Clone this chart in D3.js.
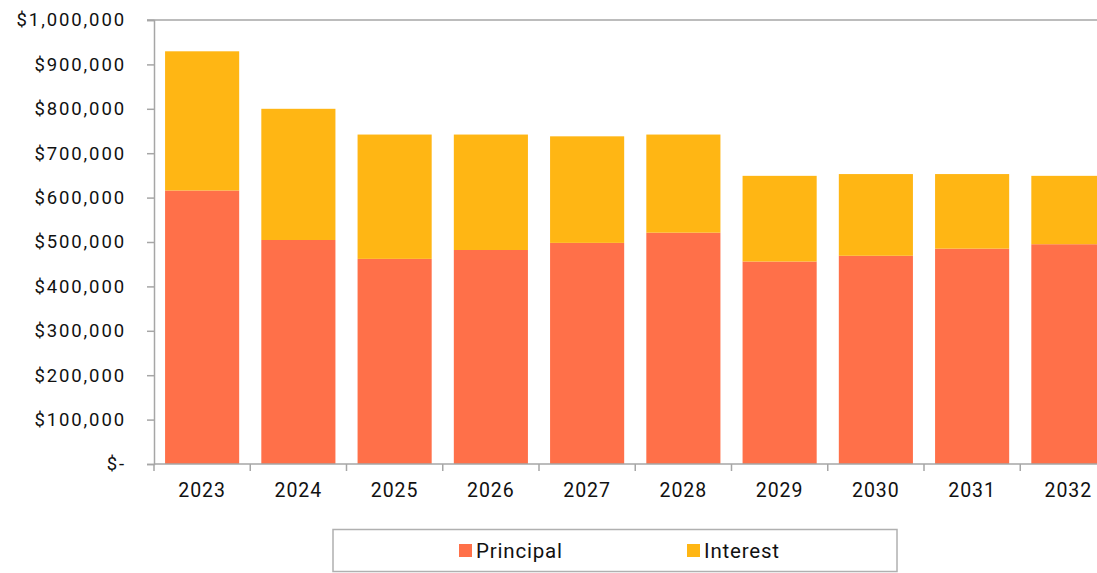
<!DOCTYPE html>
<html>
<head>
<meta charset="utf-8">
<script src="https://cdn.jsdelivr.net/npm/d3@7"></script>
<style>
  body { margin: 0; background: #fff; }
  svg { display: block; font-family: Roboto, "Liberation Sans", sans-serif; }
</style>
</head>
<body>
<div class="chart"></div>
<script>
const years = ["2023", "2024", "2025", "2026", "2027", "2028", "2029", "2030", "2031", "2032"];
const principal = [616000, 504500, 462000, 482000, 498000, 521000, 456000, 469000, 485000, 495000];
const interest = [313500, 295500, 280000, 260000, 240000, 221000, 193000, 184000, 168000, 154000];
const yTicks = [0, 100000, 200000, 300000, 400000, 500000, 600000, 700000, 800000, 900000, 1000000];
const seriesNames = ["Principal", "Interest"];
const colors = ["#ff7049", "#ffb614"];

const width = 1097;
const height = 573;

const rows = years.map((y, i) => ({ year: y, Principal: principal[i], Interest: interest[i] }));
const stacked = d3.stack().keys(seriesNames)(rows);

const x = d3.scaleBand().domain(years).range([154, 154 + 96.25 * years.length]).paddingInner(0.23).paddingOuter(0.115);
const y = d3.scaleLinear().domain([0, 1000000]).range([464, 20]);

const svg = d3.select(".chart").append("svg")
  .attr("width", width)
  .attr("height", height);

// top border line
svg.append("line")
  .attr("x1", 147).attr("x2", width)
  .attr("y1", y(1000000)).attr("y2", y(1000000))
  .attr("stroke", "#a6a6a6").attr("stroke-width", 1.5);

svg.append("g")
  .selectAll("g")
  .data(stacked)
  .enter()
  .append("g")
  .attr("fill", (d, i) => colors[i])
  .selectAll("rect")
  .data(d => d)
  .enter()
  .append("rect")
  .attr("x", d => x(d.data.year))
  .attr("width", x.bandwidth())
  .attr("y", d => y(d[1]))
  .attr("height", d => y(d[0]) - y(d[1]));

const fmt = v => v === 0 ? "$-" : "$" + d3.format(",")(v);

const yAxis = svg.append("g")
  .attr("transform", "translate(154,0)")
  .call(d3.axisLeft(y).tickValues(yTicks).tickFormat(fmt).tickSize(7).tickPadding(21));
yAxis.select(".domain").attr("stroke", "#a6a6a6").attr("stroke-width", 1.5);
yAxis.selectAll(".tick line").attr("stroke", "#a6a6a6").attr("stroke-width", 1.5);
yAxis.selectAll(".tick text")
  .attr("font-size", 18.5).attr("fill", "#111").attr("letter-spacing", 1.9)
  .style("font-family", "Roboto, sans-serif");

// x axis with ticks between categories
const xBound = d3.scaleLinear().domain([0, years.length]).range(x.range());
const xAxis = svg.append("g").attr("transform", `translate(0,${y(0)})`);
xAxis.append("line")
  .attr("x1", 154).attr("x2", width)
  .attr("stroke", "#a6a6a6").attr("stroke-width", 1.5);
xAxis.selectAll(".sep")
  .data(d3.range(years.length + 1))
  .enter()
  .append("line")
  .attr("x1", d => xBound(d)).attr("x2", d => xBound(d))
  .attr("y1", 0).attr("y2", 7)
  .attr("stroke", "#a6a6a6").attr("stroke-width", 1.5);
xAxis.selectAll(".lbl")
  .data(years)
  .enter()
  .append("text")
  .attr("x", d => x(d) + x.bandwidth() / 2)
  .attr("y", 33)
  .attr("text-anchor", "middle")
  .attr("font-size", 19.5)
  .attr("letter-spacing", 1)
  .attr("fill", "#111")
  .text(d => d);

// legend
const legend = svg.append("g");
legend.append("rect")
  .attr("x", 333).attr("y", 529.5)
  .attr("width", 564).attr("height", 42)
  .attr("fill", "#fff").attr("stroke", "#b0b0b0").attr("stroke-width", 1.5);
const legendX = [459, 687];
seriesNames.forEach((name, i) => {
  legend.append("rect")
    .attr("x", legendX[i]).attr("y", 544)
    .attr("width", 13).attr("height", 13)
    .attr("fill", colors[i]);
  legend.append("text")
    .attr("x", legendX[i] + 17).attr("y", 558)
    .attr("font-size", 20.5)
    .attr("letter-spacing", 0.8)
    .attr("fill", "#111")
    .text(name);
});
</script>
</body>
</html>
